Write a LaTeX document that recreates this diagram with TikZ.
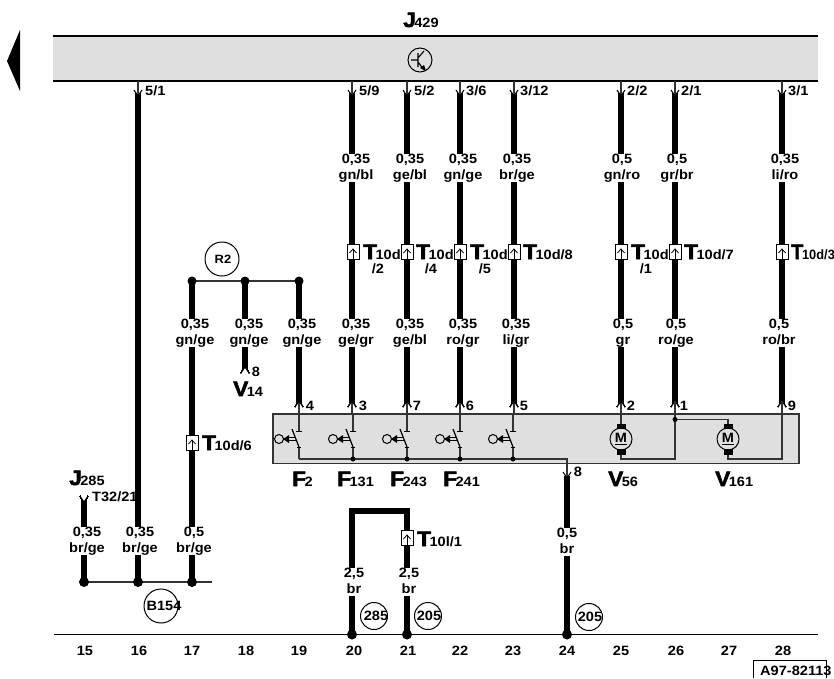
\documentclass[tikz,border=0pt]{standalone}
\usepackage{fontspec}
\usetikzlibrary{calc}
\newfontfamily\wirefont{Liberation Sans Bold}[FakeStretch=1.08]
\newfontfamily\heavyfont{Liberation Sans Bold}[FakeStretch=1.08,FakeBold=2.5]
\definecolor{panelgray}{HTML}{DFDFDF}
\newcommand{\compname}[2]{{\fontsize{21}{21}\heavyfont #1}\kern-1.5pt{\fontsize{13.5}{14}\wirefont #2}}
\newcommand{\pinup}[2]{\fill[white] ($(#1)+(-4,6)$) -- (#1) -- ($(#1)+(4,6)$) -- cycle;
  \draw[thinwire] (#1) -- (#2);
  \draw[line width=1pt] ($(#1)+(-4,6)$) -- (#1) -- ($(#1)+(4,6)$);}
\newcommand{\pindown}[2]{\fill[white] ($(#1)+(-4,-6)$) -- (#1) -- ($(#1)+(4,-6)$) -- cycle;
  \draw[thinwire] (#1) -- (#2);
  \draw[line width=1pt] ($(#1)+(-4,-6)$) -- (#1) -- ($(#1)+(4,-6)$);}
\tikzset{
  wire/.style={line width=6pt,black},
  thinwire/.style={line width=1.2pt,black!80},
  wirelabel/.style={fill=white,align=center,inner sep=0pt,yshift=-1pt,font=\fontsize{13.5}{16}\wirefont,
    execute at begin node={\rule{0pt}{13.5pt}},execute at end node={\rule[-2.5pt]{0pt}{0pt}}},
  wiretext/.style={inner sep=0pt,font=\fontsize{13.5}{15}\wirefont},
  ringmark/.style={draw,circle,line width=1pt,inner sep=0pt},
  joint/.style={fill=black,circle,inner sep=0pt,minimum size=#1},
  plugbox/.style={draw,fill=white,line width=1pt,inner sep=0pt,minimum width=12pt,minimum height=15pt,
    path picture={\draw[line width=1pt] (path picture bounding box.south) -- ++(0,-11);
      \draw[line width=.8pt] ($(path picture bounding box.center)+(-3.5,1)$) -- ++(3.5,-4) -- ++(3.5,4);}}
}
\begin{document}
\begin{tikzpicture}[x=1pt,y=-1pt]
  \useasboundingbox (0,0) rectangle (834,678);
  \fill[black] (20,30) -- (7,61) -- (20,91) -- cycle;
  \fill[panelgray] (53,36) rectangle (818,81);
  \draw[thinwire,black] (53,36) -- (818,36);
  \draw[thinwire,black] (53,81) -- (818,81);
  \fill[panelgray] (273,414) rectangle (799,463.5);
  \draw[thinwire] (273,414) rectangle (799,463.5);
  \coordinate (E1) at (54,634.5);
  \coordinate (E2) at (818,634.5);
  \draw[thinwire,black] (E1) -- (E2);
  \node[ringmark,minimum size=24pt] (C0) at (420,60) {};
  \draw[line width=1.1pt] (411,60) -- (418,60) (418,53) -- (418,67) (418,58) -- (424,51) (418,62) -- (424,70);
  \fill (426,71) -- (420,68) -- (424,65) -- cycle;
  \node[anchor=base west,inner sep=0pt] (J429) at (403,27) {\compname{J}{429}};
  \foreach \n/\px in {2/352,3/407,4/460,5/514,6/621,7/675,8/782}{
    \coordinate (A\n) at (\px,96);
    \coordinate (B\n) at (\px,81);
    \coordinate (Y\n) at (\px,401);
    \coordinate (Z\n) at (\px,414);
    \draw[wire] (\px,93) -- (\px,403);
  }
  \coordinate (A1) at (138,96);
  \coordinate (B1) at (138,81);
  \coordinate (W1) at (138,582);
  \draw[wire] (138,93) -- (W1);
  \coordinate (R1) at (192,281);
  \coordinate (R2) at (245,281);
  \coordinate (R3) at (299,281);
  \coordinate (W3) at (192,582);
  \coordinate (K1) at (245,367);
  \coordinate (Y1) at (299,401);
  \coordinate (Z1) at (299,414);
  \coordinate (W0) at (84,582);
  \coordinate (K0) at (84,502);
  \coordinate (W4) at (212,582);
  \draw[wire] (R1) -- (W3);
  \draw[wire] (R2) -- (245,369);
  \draw[wire] (R3) -- (299,403);
  \draw[wire] (84,499) -- (W0);
  \draw[thinwire] (R1) -- (R3);
  \draw[thinwire] (W0) -- (W4);
  \coordinate (H1) at (352,511);
  \coordinate (H2) at (407,511);
  \coordinate (H3) at (352,634.5);
  \coordinate (H4) at (407,634.5);
  \coordinate (H5) at (567,634.5);
  \coordinate (H6) at (567,478);
  \draw[wire,line cap=rect] (H3) -- (H1) -- (H2) -- (H4);
  \draw[wire] (567,476) -- (H5);
  \foreach \n/\px/\py/\ds in {D1/192/281/9pt,D2/245/281/9pt,D3/299/281/9pt,D4/84/582/10pt,D5/138/582/10pt,D6/192/582/10pt,D7/352/634.5/10pt,D8/407/634.5/10pt,D9/567/634.5/10pt}
    \node[joint=\ds] (\n) at (\px,\py) {};
  \node[wirelabel] (L1) at (356,167) {0,35\\gn/bl};
  \node[wirelabel] (L2) at (410,167) {0,35\\ge/bl};
  \node[wirelabel] (L3) at (463,167) {0,35\\gn/ge};
  \node[wirelabel] (L4) at (517,167) {0,35\\br/ge};
  \node[wirelabel] (L5) at (622,167) {0,5\\gn/ro};
  \node[wirelabel] (L6) at (677,167) {0,5\\gr/br};
  \node[wirelabel] (L7) at (785,167) {0,35\\li/ro};
  \node[wirelabel] (L8) at (195,332) {0,35\\gn/ge};
  \node[wirelabel] (L9) at (249,332) {0,35\\gn/ge};
  \node[wirelabel] (L10) at (302,332) {0,35\\gn/ge};
  \node[wirelabel] (L11) at (356,332) {0,35\\ge/gr};
  \node[wirelabel] (L12) at (410,332) {0,35\\ge/bl};
  \node[wirelabel] (L13) at (463,332) {0,35\\ro/gr};
  \node[wirelabel] (L14) at (516,332) {0,35\\li/gr};
  \node[wirelabel] (L15) at (623,332) {0,5\\gr};
  \node[wirelabel] (L16) at (676,332) {0,5\\ro/ge};
  \node[wirelabel] (L17) at (779,332) {0,5\\ro/br};
  \node[wirelabel] (L18) at (87,540) {0,35\\br/ge};
  \node[wirelabel] (L19) at (140,540) {0,35\\br/ge};
  \node[wirelabel] (L20) at (194,540) {0,5\\br/ge};
  \node[wirelabel] (L21) at (354,581) {2,5\\br};
  \node[wirelabel] (L22) at (409,581) {2,5\\br};
  \node[wirelabel] (L23) at (567,541) {0,5\\br};
  \foreach \n in {1,2,...,8}
    \pindown{A\n}{B\n}
  \foreach \n in {1,2,...,8}
    \pinup{Y\n}{Z\n}
  \pinup{K1}{K1}
  \pindown{K0}{K0}
  \foreach \n/\px/\py in {Q1/353/252,Q2/407/252,Q3/460/252,Q4/514/252,Q5/621/252,Q6/675/252,Q7/782/252,Q8/192/443,Q9/407/538}
    \node[plugbox] (\n) at (\px,\py) {};
  \node[anchor=base west,inner sep=0pt] (T1) at (363,259) {\compname{T}{10d}};
  \node[wiretext] (T1b) at (378,269) {/2};
  \node[anchor=base west,inner sep=0pt] (T2) at (416,259) {\compname{T}{10d}};
  \node[wiretext] (T2b) at (431,269) {/4};
  \node[anchor=base west,inner sep=0pt] (T3) at (470,259) {\compname{T}{10d}};
  \node[wiretext] (T3b) at (485,269) {/5};
  \node[anchor=base west,inner sep=0pt] (T4) at (523,259) {\compname{T}{10d/8}};
  \node[anchor=base west,inner sep=0pt] (T5) at (631,259) {\compname{T}{10d}};
  \node[wiretext] (T5b) at (646,269) {/1};
  \node[anchor=base west,inner sep=0pt] (T6) at (684,259) {\compname{T}{10d/7}};
  \node[anchor=base west,inner sep=0pt] (T7) at (791,259) {\scalebox{.88}[1]{\compname{T}{10d/3}}};
  \node[anchor=base west,inner sep=0pt] (T8) at (202,450) {\compname{T}{10d/6}};
  \node[anchor=base west,inner sep=0pt] (T9) at (417,546) {\compname{T}{10l/1}};
  \node[wiretext,anchor=west] (P1) at (145,91) {5/1};
  \node[wiretext,anchor=west] (P2) at (359,91) {5/9};
  \node[wiretext,anchor=west] (P3) at (414,91) {5/2};
  \node[wiretext,anchor=west] (P4) at (466,91) {3/6};
  \node[wiretext,anchor=west] (P5) at (520,91) {3/12};
  \node[wiretext,anchor=west] (P6) at (627,91) {2/2};
  \node[wiretext,anchor=west] (P7) at (681,91) {2/1};
  \node[wiretext,anchor=west] (P8) at (788,91) {3/1};
  \node[wiretext] (N1) at (310,406) {4};
  \node[wiretext] (N2) at (363,406) {3};
  \node[wiretext] (N3) at (417,406) {7};
  \node[wiretext] (N4) at (470,406) {6};
  \node[wiretext] (N5) at (524,406) {5};
  \node[wiretext] (N6) at (631,406) {2};
  \node[wiretext] (N7) at (684,406) {1};
  \node[wiretext] (N8) at (792,406) {9};
  \node[wiretext] (N9) at (578,472) {8};
  \node[wiretext] (N10) at (256,372) {8};
  \node[anchor=base west,inner sep=0pt] (V14) at (233,396) {\compname{V}{14}};
  \node[anchor=base west,inner sep=0pt] (J285) at (69,485) {\compname{J}{285}};
  \node[wiretext,anchor=west] (T32) at (92,497) {T32/21};
  \coordinate (G1) at (299,459);
  \coordinate (G2) at (567,459);
  \draw[thinwire] (G1) -- (G2) -- (H6);
  \pindown{H6}{G2}
  \foreach \n/\px in {1/299,2/353,3/407,4/460,5/513}{
    \coordinate (S\n) at (\px,431);
    \draw[thinwire] (\px,415) -- (S\n);
    \draw[line width=1pt] (\px-3,431) -- (\px+3,431);
    \draw[line width=1.2pt] (\px-7,429) -- (\px,447);
    \draw[thinwire] (\px,447) -- (\px,459);
    \draw[line width=1pt] (\px-2,447) -- (\px+2,447);
    \node[ringmark,minimum size=9pt] (O\n) at (\px-20,439) {};
    \fill (\px-16,439) -- (\px-10,435) -- (\px-10,443) -- cycle;
    \draw[line width=1pt] (\px-11,437.5) -- (\px-4,437.5) (\px-11,440.5) -- (\px-3.5,440.5);
  }
  \foreach \n/\px in {2/353,3/407,4/460,5/513}
    \node[joint=5pt] (I\n) at (\px,459) {};
  \node[anchor=base west,inner sep=0pt] (F1) at (292,486) {\compname{F}{2}};
  \node[anchor=base west,inner sep=0pt] (F2) at (337,486) {\compname{F}{131}};
  \node[anchor=base west,inner sep=0pt] (F3) at (390,486) {\compname{F}{243}};
  \node[anchor=base west,inner sep=0pt] (F4) at (443,486) {\compname{F}{241}};
  \node[anchor=base west,inner sep=0pt] (V56) at (608,486) {\compname{V}{56}};
  \node[anchor=base west,inner sep=0pt] (V161) at (715,486) {\compname{V}{161}};
  \coordinate (U1) at (621,459);
  \coordinate (U2) at (675,459);
  \coordinate (U3) at (675,419.5);
  \coordinate (U4) at (728,419.5);
  \coordinate (U5) at (728,459);
  \coordinate (U6) at (782,459);
  \draw[thinwire] (Z6) -- (621,428);
  \draw[thinwire] (Y7) -- (U2) -- (U1) -- (621,450);
  \draw[thinwire] (U3) -- (U4) -- (728,428);
  \draw[thinwire] (Y8) -- (U6) -- (U5) -- (728,450);
  \node[joint=5pt] (U0) at (U3) {};
  \node[ringmark,minimum size=22pt,font=\fontsize{13.5}{15}\wirefont] (M1) at (621,439) {\underline{M}};
  \node[ringmark,minimum size=22pt,font=\fontsize{13.5}{15}\wirefont] (M2) at (728,439) {\underline{M}};
  \fill (616.5,423.5) rectangle (625.5,429);
  \fill (616.5,449) rectangle (625.5,454.5);
  \fill (723.5,423.5) rectangle (732.5,429);
  \fill (723.5,449) rectangle (732.5,454.5);
  \node[ringmark,minimum size=34pt] (C1) at (222,259) {};
  \node[wiretext,font=\fontsize{12}{15}\wirefont] (C1t) at (223,259) {R2};
  \node[ringmark,minimum size=34pt] (C2) at (161,606) {};
  \node[wiretext] (C2t) at (164,606) {B154};
  \node[ringmark,minimum size=27pt] (C3) at (374,616) {};
  \node[wiretext] (C3t) at (376,616) {285};
  \node[ringmark,minimum size=27pt] (C4) at (428,616) {};
  \node[wiretext] (C4t) at (429,616) {205};
  \node[ringmark,minimum size=27pt] (C5) at (589,617) {};
  \node[wiretext] (C5t) at (590,617) {205};
  \foreach \n/\px in {15/85,16/139,17/192,18/246,19/299,20/354,21/408,22/460,23/513,24/567,25/621,26/676,27/729,28/783}
    \node[wiretext] (Z\n x) at (\px,651) {\n};
  \coordinate (X1) at (753,678);
  \coordinate (X2) at (753,660);
  \coordinate (X3) at (826,660);
  \coordinate (X4) at (826,678);
  \draw[line width=1pt] (X1) -- (X2) -- (X3) -- (X4);
  \node[wiretext,anchor=west] (X0) at (760,671) {A97-82113};
\end{tikzpicture}
\end{document}
